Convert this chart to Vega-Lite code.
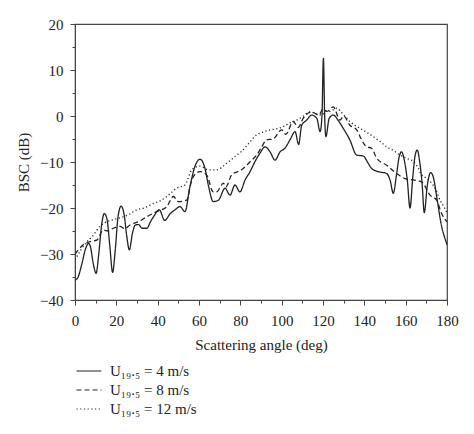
{
  "$schema": "https://vega.github.io/schema/vega-lite/v6.json",
  "width": 372,
  "height": 276,
  "autosize": "none",
  "padding": {"left": 75, "top": 24, "right": 27, "bottom": 134},
  "background": "white",
  "config": {
    "font": "Liberation Serif",
    "view": {"stroke": "#444", "strokeWidth": 1.2},
    "axis": {
      "grid": false,
      "domainColor": "#444",
      "tickColor": "#444",
      "labelColor": "#222",
      "titleColor": "#222",
      "labelFont": "Liberation Serif",
      "titleFont": "Liberation Serif",
      "labelFontSize": 15,
      "titleFontSize": 15,
      "titleFontWeight": "normal"
    }
  },
  "datasets": {
    "bsc": [
      {"angle": 0, "bsc": -35.7, "speed": "4 m/s"},
      {"angle": 1.5, "bsc": -35, "speed": "4 m/s"},
      {"angle": 3.4, "bsc": -32, "speed": "4 m/s"},
      {"angle": 5, "bsc": -29, "speed": "4 m/s"},
      {"angle": 6.6, "bsc": -27.7, "speed": "4 m/s"},
      {"angle": 7.5, "bsc": -28.5, "speed": "4 m/s"},
      {"angle": 8.8, "bsc": -32, "speed": "4 m/s"},
      {"angle": 10.2, "bsc": -34.2, "speed": "4 m/s"},
      {"angle": 11.5, "bsc": -30, "speed": "4 m/s"},
      {"angle": 12.8, "bsc": -24, "speed": "4 m/s"},
      {"angle": 14.2, "bsc": -21.2, "speed": "4 m/s"},
      {"angle": 15.5, "bsc": -22.5, "speed": "4 m/s"},
      {"angle": 16.8, "bsc": -28, "speed": "4 m/s"},
      {"angle": 18.2, "bsc": -34, "speed": "4 m/s"},
      {"angle": 19.5, "bsc": -29, "speed": "4 m/s"},
      {"angle": 20.8, "bsc": -22, "speed": "4 m/s"},
      {"angle": 22.3, "bsc": -19.6, "speed": "4 m/s"},
      {"angle": 23.8, "bsc": -21.5, "speed": "4 m/s"},
      {"angle": 25, "bsc": -26, "speed": "4 m/s"},
      {"angle": 26.3, "bsc": -29.1, "speed": "4 m/s"},
      {"angle": 27.8, "bsc": -25.5, "speed": "4 m/s"},
      {"angle": 29.2, "bsc": -23.7, "speed": "4 m/s"},
      {"angle": 30.8, "bsc": -23.6, "speed": "4 m/s"},
      {"angle": 32.4, "bsc": -24.4, "speed": "4 m/s"},
      {"angle": 34.8, "bsc": -24.4, "speed": "4 m/s"},
      {"angle": 36.5, "bsc": -23, "speed": "4 m/s"},
      {"angle": 38, "bsc": -21.9, "speed": "4 m/s"},
      {"angle": 40.8, "bsc": -20.4, "speed": "4 m/s"},
      {"angle": 43.4, "bsc": -22.7, "speed": "4 m/s"},
      {"angle": 46.1, "bsc": -21.2, "speed": "4 m/s"},
      {"angle": 48.4, "bsc": -20.4, "speed": "4 m/s"},
      {"angle": 50.8, "bsc": -19.7, "speed": "4 m/s"},
      {"angle": 53.2, "bsc": -20.8, "speed": "4 m/s"},
      {"angle": 55.6, "bsc": -15.4, "speed": "4 m/s"},
      {"angle": 58, "bsc": -11, "speed": "4 m/s"},
      {"angle": 60.5, "bsc": -9.4, "speed": "4 m/s"},
      {"angle": 62.9, "bsc": -11.4, "speed": "4 m/s"},
      {"angle": 64.5, "bsc": -15, "speed": "4 m/s"},
      {"angle": 66.9, "bsc": -18.6, "speed": "4 m/s"},
      {"angle": 69.4, "bsc": -18.3, "speed": "4 m/s"},
      {"angle": 72.6, "bsc": -15.7, "speed": "4 m/s"},
      {"angle": 75, "bsc": -17.2, "speed": "4 m/s"},
      {"angle": 77.4, "bsc": -15, "speed": "4 m/s"},
      {"angle": 79.8, "bsc": -16.5, "speed": "4 m/s"},
      {"angle": 82.3, "bsc": -13.9, "speed": "4 m/s"},
      {"angle": 84.7, "bsc": -12.1, "speed": "4 m/s"},
      {"angle": 87.1, "bsc": -9.9, "speed": "4 m/s"},
      {"angle": 89.5, "bsc": -8.1, "speed": "4 m/s"},
      {"angle": 91.9, "bsc": -6.7, "speed": "4 m/s"},
      {"angle": 94.4, "bsc": -7.8, "speed": "4 m/s"},
      {"angle": 96.8, "bsc": -9.6, "speed": "4 m/s"},
      {"angle": 99.2, "bsc": -7.8, "speed": "4 m/s"},
      {"angle": 101.6, "bsc": -7, "speed": "4 m/s"},
      {"angle": 104, "bsc": -5.2, "speed": "4 m/s"},
      {"angle": 106.5, "bsc": -3.4, "speed": "4 m/s"},
      {"angle": 108.2, "bsc": -6.2, "speed": "4 m/s"},
      {"angle": 109.7, "bsc": -2, "speed": "4 m/s"},
      {"angle": 112.1, "bsc": -0.9, "speed": "4 m/s"},
      {"angle": 114.5, "bsc": 0.2, "speed": "4 m/s"},
      {"angle": 117, "bsc": -0.5, "speed": "4 m/s"},
      {"angle": 118.6, "bsc": -3.4, "speed": "4 m/s"},
      {"angle": 119.5, "bsc": 0, "speed": "4 m/s"},
      {"angle": 120.2, "bsc": 12.5, "speed": "4 m/s"},
      {"angle": 120.8, "bsc": 0, "speed": "4 m/s"},
      {"angle": 121.4, "bsc": -4.5, "speed": "4 m/s"},
      {"angle": 123, "bsc": -0.5, "speed": "4 m/s"},
      {"angle": 125, "bsc": 0.2, "speed": "4 m/s"},
      {"angle": 127.4, "bsc": -1, "speed": "4 m/s"},
      {"angle": 129.8, "bsc": -2.7, "speed": "4 m/s"},
      {"angle": 133, "bsc": -5.2, "speed": "4 m/s"},
      {"angle": 136.3, "bsc": -8.5, "speed": "4 m/s"},
      {"angle": 139.5, "bsc": -8.7, "speed": "4 m/s"},
      {"angle": 141.5, "bsc": -10, "speed": "4 m/s"},
      {"angle": 143.5, "bsc": -11.4, "speed": "4 m/s"},
      {"angle": 146.8, "bsc": -12.1, "speed": "4 m/s"},
      {"angle": 150.8, "bsc": -12.5, "speed": "4 m/s"},
      {"angle": 152.5, "bsc": -14, "speed": "4 m/s"},
      {"angle": 154, "bsc": -16.8, "speed": "4 m/s"},
      {"angle": 155.5, "bsc": -13, "speed": "4 m/s"},
      {"angle": 156.8, "bsc": -9, "speed": "4 m/s"},
      {"angle": 158, "bsc": -7.8, "speed": "4 m/s"},
      {"angle": 159.3, "bsc": -9.5, "speed": "4 m/s"},
      {"angle": 160.8, "bsc": -14, "speed": "4 m/s"},
      {"angle": 162.1, "bsc": -20, "speed": "4 m/s"},
      {"angle": 163.5, "bsc": -13, "speed": "4 m/s"},
      {"angle": 164.6, "bsc": -8.5, "speed": "4 m/s"},
      {"angle": 165.6, "bsc": -7.4, "speed": "4 m/s"},
      {"angle": 166.8, "bsc": -10, "speed": "4 m/s"},
      {"angle": 168, "bsc": -15, "speed": "4 m/s"},
      {"angle": 169, "bsc": -21, "speed": "4 m/s"},
      {"angle": 170.5, "bsc": -15, "speed": "4 m/s"},
      {"angle": 172.1, "bsc": -12.3, "speed": "4 m/s"},
      {"angle": 173.5, "bsc": -13.5, "speed": "4 m/s"},
      {"angle": 175, "bsc": -17.5, "speed": "4 m/s"},
      {"angle": 177.4, "bsc": -24, "speed": "4 m/s"},
      {"angle": 179.5, "bsc": -27.3, "speed": "4 m/s"},
      {"angle": 180, "bsc": -28, "speed": "4 m/s"},

      {"angle": 0, "bsc": -30, "speed": "8 m/s"},
      {"angle": 1.6, "bsc": -29.1, "speed": "8 m/s"},
      {"angle": 4, "bsc": -28, "speed": "8 m/s"},
      {"angle": 7.3, "bsc": -27.3, "speed": "8 m/s"},
      {"angle": 10.5, "bsc": -27, "speed": "8 m/s"},
      {"angle": 13.7, "bsc": -24.8, "speed": "8 m/s"},
      {"angle": 16, "bsc": -25, "speed": "8 m/s"},
      {"angle": 18.5, "bsc": -24.4, "speed": "8 m/s"},
      {"angle": 21.8, "bsc": -24, "speed": "8 m/s"},
      {"angle": 24, "bsc": -24.5, "speed": "8 m/s"},
      {"angle": 26.6, "bsc": -23.7, "speed": "8 m/s"},
      {"angle": 30.6, "bsc": -23, "speed": "8 m/s"},
      {"angle": 34.7, "bsc": -21.9, "speed": "8 m/s"},
      {"angle": 39.5, "bsc": -20.8, "speed": "8 m/s"},
      {"angle": 44.4, "bsc": -19.7, "speed": "8 m/s"},
      {"angle": 47.6, "bsc": -17.5, "speed": "8 m/s"},
      {"angle": 50, "bsc": -18.6, "speed": "8 m/s"},
      {"angle": 54, "bsc": -18.3, "speed": "8 m/s"},
      {"angle": 56.5, "bsc": -13.9, "speed": "8 m/s"},
      {"angle": 58.5, "bsc": -12.5, "speed": "8 m/s"},
      {"angle": 60.5, "bsc": -12.1, "speed": "8 m/s"},
      {"angle": 63.7, "bsc": -12.8, "speed": "8 m/s"},
      {"angle": 66.9, "bsc": -16.5, "speed": "8 m/s"},
      {"angle": 68.5, "bsc": -16.5, "speed": "8 m/s"},
      {"angle": 71.8, "bsc": -14.6, "speed": "8 m/s"},
      {"angle": 73, "bsc": -15.4, "speed": "8 m/s"},
      {"angle": 75.8, "bsc": -12.8, "speed": "8 m/s"},
      {"angle": 80.6, "bsc": -11.7, "speed": "8 m/s"},
      {"angle": 85.5, "bsc": -9.6, "speed": "8 m/s"},
      {"angle": 87.9, "bsc": -8.5, "speed": "8 m/s"},
      {"angle": 90, "bsc": -7, "speed": "8 m/s"},
      {"angle": 92.7, "bsc": -5.2, "speed": "8 m/s"},
      {"angle": 95.9, "bsc": -5, "speed": "8 m/s"},
      {"angle": 100, "bsc": -3, "speed": "8 m/s"},
      {"angle": 102, "bsc": -4, "speed": "8 m/s"},
      {"angle": 105.6, "bsc": -1.2, "speed": "8 m/s"},
      {"angle": 108, "bsc": -2.5, "speed": "8 m/s"},
      {"angle": 110.4, "bsc": -0.5, "speed": "8 m/s"},
      {"angle": 114.5, "bsc": 0.9, "speed": "8 m/s"},
      {"angle": 118, "bsc": 0.2, "speed": "8 m/s"},
      {"angle": 120, "bsc": 1.5, "speed": "8 m/s"},
      {"angle": 122, "bsc": 1, "speed": "8 m/s"},
      {"angle": 125, "bsc": 2, "speed": "8 m/s"},
      {"angle": 128.2, "bsc": -0.9, "speed": "8 m/s"},
      {"angle": 130, "bsc": 0, "speed": "8 m/s"},
      {"angle": 133, "bsc": -2, "speed": "8 m/s"},
      {"angle": 136.3, "bsc": -3, "speed": "8 m/s"},
      {"angle": 138.5, "bsc": -5, "speed": "8 m/s"},
      {"angle": 141.1, "bsc": -6.7, "speed": "8 m/s"},
      {"angle": 143.5, "bsc": -7, "speed": "8 m/s"},
      {"angle": 146, "bsc": -9.2, "speed": "8 m/s"},
      {"angle": 150.8, "bsc": -10.7, "speed": "8 m/s"},
      {"angle": 155.6, "bsc": -12.5, "speed": "8 m/s"},
      {"angle": 159.7, "bsc": -13.6, "speed": "8 m/s"},
      {"angle": 163.7, "bsc": -13.9, "speed": "8 m/s"},
      {"angle": 167.7, "bsc": -14.3, "speed": "8 m/s"},
      {"angle": 171.8, "bsc": -17.2, "speed": "8 m/s"},
      {"angle": 175, "bsc": -18.3, "speed": "8 m/s"},
      {"angle": 177.4, "bsc": -21.2, "speed": "8 m/s"},
      {"angle": 180, "bsc": -23, "speed": "8 m/s"},

      {"angle": 0, "bsc": -31.3, "speed": "12 m/s"},
      {"angle": 3, "bsc": -29, "speed": "12 m/s"},
      {"angle": 5.5, "bsc": -27.5, "speed": "12 m/s"},
      {"angle": 8.9, "bsc": -25.9, "speed": "12 m/s"},
      {"angle": 12, "bsc": -24, "speed": "12 m/s"},
      {"angle": 15.3, "bsc": -23, "speed": "12 m/s"},
      {"angle": 19, "bsc": -22.5, "speed": "12 m/s"},
      {"angle": 23.4, "bsc": -21.9, "speed": "12 m/s"},
      {"angle": 26.5, "bsc": -21.3, "speed": "12 m/s"},
      {"angle": 29.8, "bsc": -20.4, "speed": "12 m/s"},
      {"angle": 33.5, "bsc": -20, "speed": "12 m/s"},
      {"angle": 37.9, "bsc": -19, "speed": "12 m/s"},
      {"angle": 41, "bsc": -18.5, "speed": "12 m/s"},
      {"angle": 44.4, "bsc": -17.5, "speed": "12 m/s"},
      {"angle": 47, "bsc": -16.5, "speed": "12 m/s"},
      {"angle": 49.2, "bsc": -15.7, "speed": "12 m/s"},
      {"angle": 53.2, "bsc": -15, "speed": "12 m/s"},
      {"angle": 56.5, "bsc": -11.7, "speed": "12 m/s"},
      {"angle": 60.5, "bsc": -10.9, "speed": "12 m/s"},
      {"angle": 64.5, "bsc": -11.7, "speed": "12 m/s"},
      {"angle": 68.5, "bsc": -11.7, "speed": "12 m/s"},
      {"angle": 73.4, "bsc": -10.3, "speed": "12 m/s"},
      {"angle": 78.2, "bsc": -8.5, "speed": "12 m/s"},
      {"angle": 80.6, "bsc": -7.7, "speed": "12 m/s"},
      {"angle": 84, "bsc": -6, "speed": "12 m/s"},
      {"angle": 87.9, "bsc": -4.1, "speed": "12 m/s"},
      {"angle": 91, "bsc": -3.5, "speed": "12 m/s"},
      {"angle": 94.4, "bsc": -3, "speed": "12 m/s"},
      {"angle": 97.5, "bsc": -2.8, "speed": "12 m/s"},
      {"angle": 100.8, "bsc": -2.3, "speed": "12 m/s"},
      {"angle": 104, "bsc": -1.5, "speed": "12 m/s"},
      {"angle": 107.3, "bsc": -0.9, "speed": "12 m/s"},
      {"angle": 110.5, "bsc": 0, "speed": "12 m/s"},
      {"angle": 113.7, "bsc": 0.9, "speed": "12 m/s"},
      {"angle": 116.5, "bsc": 0.5, "speed": "12 m/s"},
      {"angle": 119.4, "bsc": 0.2, "speed": "12 m/s"},
      {"angle": 121.5, "bsc": 1, "speed": "12 m/s"},
      {"angle": 123.4, "bsc": 1, "speed": "12 m/s"},
      {"angle": 126.6, "bsc": 1.7, "speed": "12 m/s"},
      {"angle": 129.5, "bsc": 0.5, "speed": "12 m/s"},
      {"angle": 133, "bsc": -1.2, "speed": "12 m/s"},
      {"angle": 137.9, "bsc": -2.7, "speed": "12 m/s"},
      {"angle": 141, "bsc": -3.5, "speed": "12 m/s"},
      {"angle": 144.4, "bsc": -4.5, "speed": "12 m/s"},
      {"angle": 147.5, "bsc": -5.5, "speed": "12 m/s"},
      {"angle": 150.8, "bsc": -6.7, "speed": "12 m/s"},
      {"angle": 154, "bsc": -7.5, "speed": "12 m/s"},
      {"angle": 157.3, "bsc": -8.5, "speed": "12 m/s"},
      {"angle": 160.5, "bsc": -9.2, "speed": "12 m/s"},
      {"angle": 163.7, "bsc": -9.9, "speed": "12 m/s"},
      {"angle": 165.7, "bsc": -11, "speed": "12 m/s"},
      {"angle": 167.7, "bsc": -12.8, "speed": "12 m/s"},
      {"angle": 170, "bsc": -13.5, "speed": "12 m/s"},
      {"angle": 172.6, "bsc": -14.6, "speed": "12 m/s"},
      {"angle": 174.6, "bsc": -16, "speed": "12 m/s"},
      {"angle": 176.6, "bsc": -18.3, "speed": "12 m/s"},
      {"angle": 178.2, "bsc": -19.5, "speed": "12 m/s"},
      {"angle": 180, "bsc": -21, "speed": "12 m/s"}
    ]
  },
  "data": {"name": "bsc"},
  "mark": {"type": "line", "color": "#222", "strokeWidth": 1.3, "interpolate": "monotone", "clip": true},
  "encoding": {
    "x": {
      "field": "angle",
      "type": "quantitative",
      "scale": {"domain": [0, 180], "nice": false, "zero": false},
      "axis": {
        "title": "Scattering angle (deg)",
        "values": [0, 10, 20, 30, 40, 50, 60, 70, 80, 90, 100, 110, 120, 130, 140, 150, 160, 170, 180],
        "labelExpr": "datum.value % 20 === 0 ? datum.label : ''",
        "tickSize": {"condition": {"test": "datum.value % 20 !== 0", "value": 3}, "value": 5},
        "labelPadding": 8,
        "titlePadding": 9,
        "labelFlush": false
      }
    },
    "y": {
      "field": "bsc",
      "type": "quantitative",
      "scale": {"domain": [-40, 20], "nice": false, "zero": false},
      "axis": {
        "title": "BSC (dB)",
        "values": [-40, -35, -30, -25, -20, -15, -10, -5, 0, 5, 10, 15, 20],
        "labelExpr": "datum.value % 10 === 0 ? datum.label : ''",
        "tickSize": {"condition": {"test": "datum.value % 10 !== 0", "value": 3}, "value": 5},
        "labelPadding": 7,
        "titlePadding": 8,
        "labelFlush": false
      }
    },
    "strokeDash": {
      "field": "speed",
      "type": "nominal",
      "scale": {
        "domain": ["4 m/s", "8 m/s", "12 m/s"],
        "range": [[1, 0], [5, 3], [1.2, 2.5]]
      },
      "legend": {
        "title": null,
        "orient": "none",
        "legendX": 3,
        "legendY": 336,
        "direction": "vertical",
        "symbolType": "M-1.25,0H1.25",
        "symbolSize": 400,
        "symbolStrokeColor": "#222",
        "symbolStrokeWidth": 1.2,
        "labelFont": "Liberation Serif",
        "labelFontSize": 15,
        "labelColor": "#222",
        "labelOffset": 10,
        "rowPadding": -1.5,
        "labelExpr": "'U₁₉.₅ = ' + datum.label"
      }
    }
  }
}
